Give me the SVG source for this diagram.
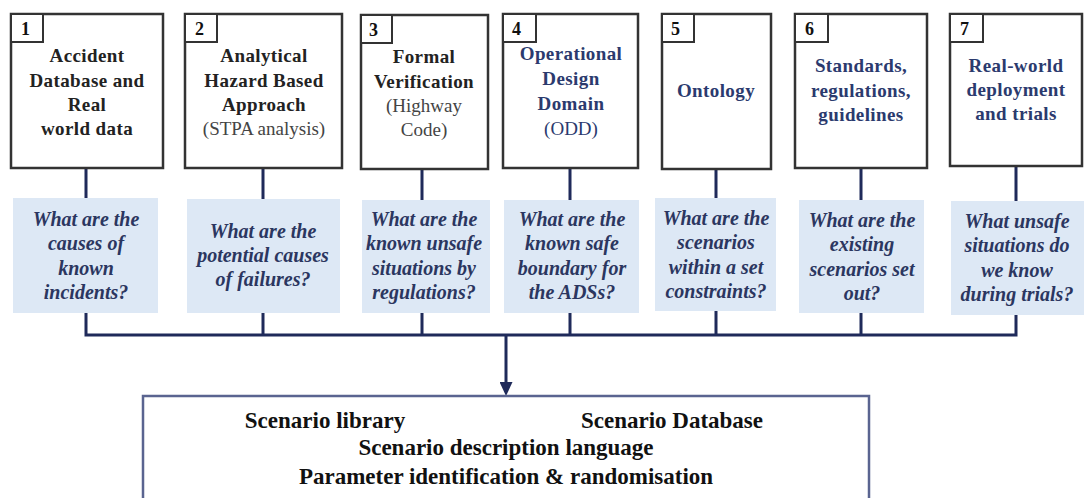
<svg xmlns="http://www.w3.org/2000/svg" width="1086" height="498" viewBox="0 0 1086 498">
<style>
.box{fill:#fff;stroke:#333;stroke-width:2.5}
.num{fill:#fff;stroke:#333;stroke-width:2}
.numt{font-family:"Liberation Serif",serif;font-weight:bold;font-size:18px;fill:#111}
.t{font-family:"Liberation Serif",serif;font-weight:bold;font-size:19px;text-anchor:middle;fill:#222;letter-spacing:0.4px}
.tn{fill:#2b3a6e}
.r{font-weight:normal;fill:#444}
.q{fill:#dde8f5}
.qt{font-family:"Liberation Serif",serif;font-weight:bold;font-style:italic;font-size:20px;text-anchor:middle;fill:#2b3660}
.ln{fill:none;stroke:#1f2a5a;stroke-width:3}
.bt{font-family:"Liberation Serif",serif;font-weight:bold;font-size:23px;text-anchor:middle;fill:#111}
</style>
<defs>
<marker id="ah" markerWidth="14" markerHeight="13" refX="4" refY="6.5" orient="auto" markerUnits="userSpaceOnUse" viewBox="0 0 14 13">
<path d="M0,0 L14,6.5 L0,13 Z" fill="#1f2a5a"/>
</marker>
</defs>
<g id="connectors">
<path class="ln" d="M86,168 V198 M263,168 V199 M422,168 V200 M570,168 V200 M716,168 V198 M861,168 V200 M1016,166 V201"/>
<path class="ln" d="M86,313 V335 M263,313 V335 M422,313 V335 M570,313 V335 M716,311 V335 M861,313 V335 M1016,315 V335 M84.5,335 H1017.5"/>
<line x1="506" y1="335" x2="506" y2="386" stroke="#1f2a5a" stroke-width="3" marker-end="url(#ah)"/>
</g>
<g id="node1">
<rect class="box" x="11" y="14" width="152" height="154"/>
<rect class="num" x="11" y="14" width="32" height="28"/>
<text class="numt" x="21" y="35">1</text>
<text class="t" x="87" y="62">Accident</text>
<text class="t" x="87" y="87">Database and</text>
<text class="t" x="87" y="111">Real</text>
<text class="t" x="87" y="135">world data</text>
</g>
<g id="node2">
<rect class="box" x="185" y="14" width="157" height="154"/>
<rect class="num" x="185" y="14" width="32" height="28"/>
<text class="numt" x="195" y="35">2</text>
<text class="t" x="264" y="62">Analytical</text>
<text class="t" x="264" y="87">Hazard  Based</text>
<text class="t" x="264" y="111">Approach</text>
<text class="t r" x="264" y="135" style="letter-spacing:0">(STPA analysis)</text>
</g>
<g id="node3">
<rect class="box" x="361" y="15" width="127" height="154"/>
<rect class="num" x="361" y="15" width="31" height="28"/>
<text class="numt" x="369" y="36">3</text>
<text class="t" x="424" y="63">Formal</text>
<text class="t" x="424" y="88">Verification</text>
<text class="t r" x="424" y="112" style="letter-spacing:0">(Highway</text>
<text class="t r" x="424" y="136" style="letter-spacing:0">Code)</text>
</g>
<g id="node4">
<rect class="box" x="503" y="14" width="135" height="154"/>
<rect class="num" x="503" y="14" width="33" height="28"/>
<text class="numt" x="512" y="35">4</text>
<text class="t tn" x="571" y="60">Operational</text>
<text class="t tn" x="571" y="85">Design</text>
<text class="t tn" x="571" y="110">Domain</text>
<text class="t tn r" x="571" y="135" style="fill:#2b3a6e;letter-spacing:0">(ODD)</text>
</g>
<g id="node5">
<rect class="box" x="662" y="14" width="109" height="155"/>
<rect class="num" x="662" y="14" width="32" height="28"/>
<text class="numt" x="671" y="35">5</text>
<text class="t tn" x="716" y="97">Ontology</text>
</g>
<g id="node6">
<rect class="box" x="795" y="14" width="132" height="154"/>
<rect class="num" x="795" y="14" width="33" height="28"/>
<text class="numt" x="805" y="35">6</text>
<text class="t tn" x="861" y="72">Standards,</text>
<text class="t tn" x="861" y="97">regulations,</text>
<text class="t tn" x="861" y="121">guidelines</text>
</g>
<g id="node7">
<rect class="box" x="950" y="14" width="132" height="152"/>
<rect class="num" x="950" y="14" width="33" height="28"/>
<text class="numt" x="960" y="35">7</text>
<text class="t tn" x="1016" y="72">Real-world</text>
<text class="t tn" x="1016" y="96">deployment</text>
<text class="t tn" x="1016" y="120">and trials</text>
</g>
<g id="q1">
<rect class="q" x="13" y="198" width="145" height="115"/>
<text class="qt" x="86" y="226">What are the</text>
<text class="qt" x="86" y="250">causes of</text>
<text class="qt" x="86" y="275">known</text>
<text class="qt" x="86" y="299">incidents?</text>
</g>
<g id="q2">
<rect class="q" x="187" y="199" width="153" height="114"/>
<text class="qt" x="263" y="238">What are the</text>
<text class="qt" x="263" y="262">potential causes</text>
<text class="qt" x="263" y="286">of failures?</text>
</g>
<g id="q3">
<rect class="q" x="362" y="200" width="128" height="113"/>
<text class="qt" x="424" y="226">What are the</text>
<text class="qt" x="424" y="250">known unsafe</text>
<text class="qt" x="424" y="275">situations by</text>
<text class="qt" x="424" y="299">regulations?</text>
</g>
<g id="q4">
<rect class="q" x="504" y="200" width="135" height="113"/>
<text class="qt" x="572" y="226">What are the</text>
<text class="qt" x="572" y="250">known safe</text>
<text class="qt" x="572" y="275">boundary for</text>
<text class="qt" x="572" y="299">the ADSs?</text>
</g>
<g id="q5">
<rect class="q" x="655" y="198" width="121" height="113"/>
<text class="qt" x="716" y="225">What are the</text>
<text class="qt" x="716" y="249">scenarios</text>
<text class="qt" x="716" y="274">within a set</text>
<text class="qt" x="716" y="298">constraints?</text>
</g>
<g id="q6">
<rect class="q" x="799" y="200" width="125" height="113"/>
<text class="qt" x="862" y="227">What are the</text>
<text class="qt" x="862" y="251">existing</text>
<text class="qt" x="862" y="276">scenarios set</text>
<text class="qt" x="862" y="300">out?</text>
</g>
<g id="q7">
<rect class="q" x="951" y="201" width="133" height="114"/>
<text class="qt" x="1017" y="228">What unsafe</text>
<text class="qt" x="1017" y="252">situations do</text>
<text class="qt" x="1017" y="277">we know</text>
<text class="qt" x="1017" y="301">during trials?</text>
</g>
<g id="output">
<rect x="143" y="396" width="726" height="104" fill="#fff" stroke="#5a6490" stroke-width="2.5"/>
<text class="bt" x="325" y="428">Scenario library</text>
<text class="bt" x="672" y="428">Scenario Database</text>
<text class="bt" x="506" y="455">Scenario description language</text>
<text class="bt" x="506" y="484">Parameter identification &amp; randomisation</text>
</g>
</svg>
